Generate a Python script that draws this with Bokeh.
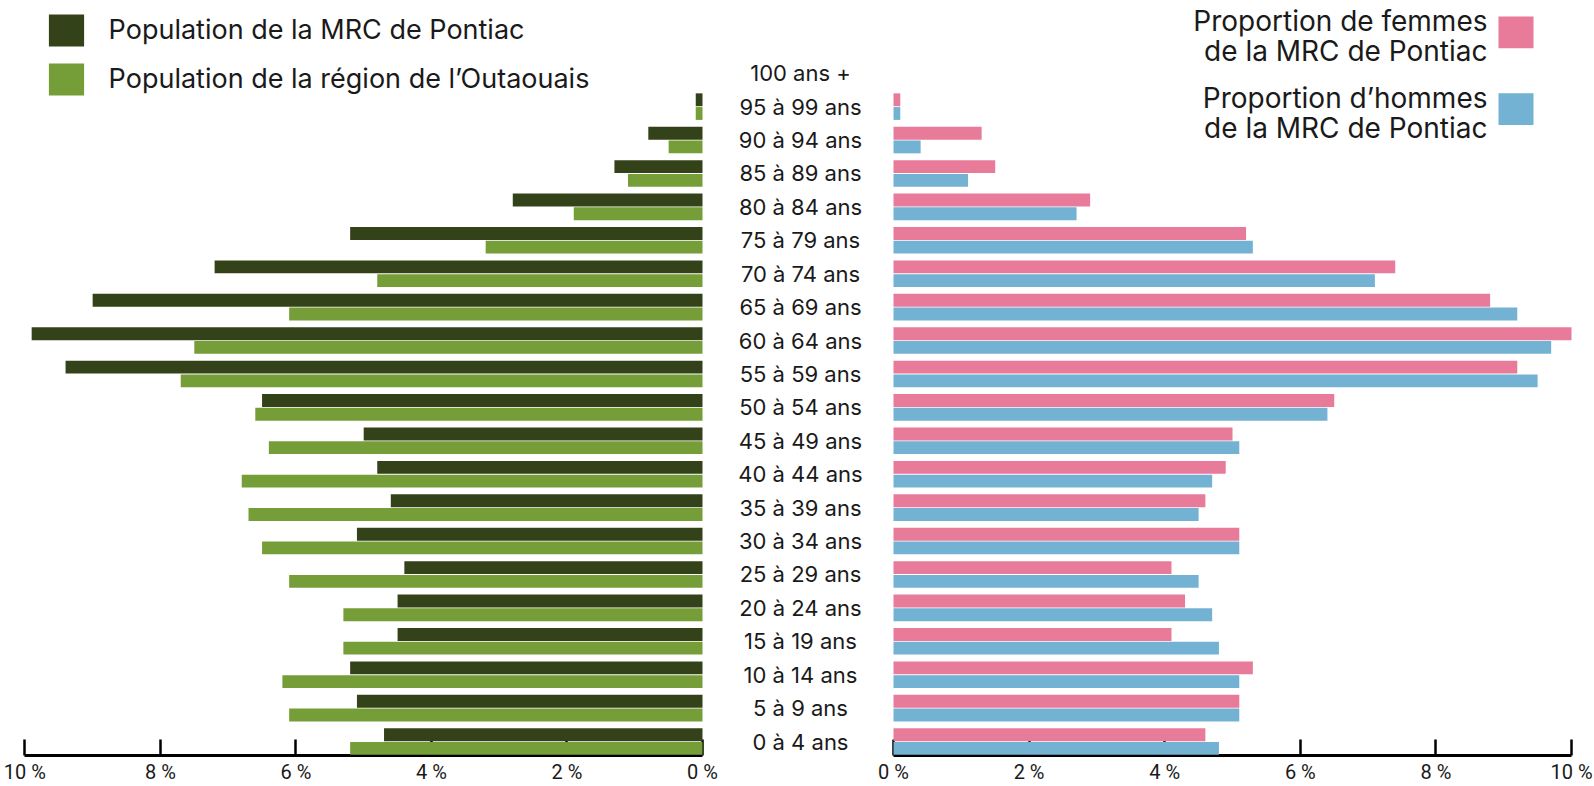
from bokeh.plotting import figure
from bokeh.layouts import row
from bokeh.models import (Range1d, LinearAxis, FixedTicker, Legend, LegendItem,
                          Label, BoxAnnotation, ColumnDataSource)
from bokeh.transform import dodge
from bokeh.embed import file_html
from bokeh.resources import INLINE
from bokeh.core.properties import value

# ---------------- data ----------------
ages = ["0 à 4 ans", "5 à 9 ans", "10 à 14 ans", "15 à 19 ans", "20 à 24 ans",
        "25 à 29 ans", "30 à 34 ans", "35 à 39 ans", "40 à 44 ans", "45 à 49 ans",
        "50 à 54 ans", "55 à 59 ans", "60 à 64 ans", "65 à 69 ans", "70 à 74 ans",
        "75 à 79 ans", "80 à 84 ans", "85 à 89 ans", "90 à 94 ans", "95 à 99 ans",
        "100 ans +"]
pontiac = [4.7, 5.1, 5.2, 4.5, 4.5, 4.4, 5.1, 4.6, 4.8, 5.0, 6.5,
           9.4, 9.9, 9.0, 7.2, 5.2, 2.8, 1.3, 0.8, 0.1, 0.0]
outaouais = [5.2, 6.1, 6.2, 5.3, 5.3, 6.1, 6.5, 6.7, 6.8, 6.4, 6.6,
             7.7, 7.5, 6.1, 4.8, 3.2, 1.9, 1.1, 0.5, 0.1, 0.0]
femmes = [4.6, 5.1, 5.3, 4.1, 4.3, 4.1, 5.1, 4.6, 4.9, 5.0, 6.5,
          9.2, 10.0, 8.8, 7.4, 5.2, 2.9, 1.5, 1.3, 0.1, 0.0]
hommes = [4.8, 5.1, 5.1, 4.8, 4.7, 4.5, 5.1, 4.5, 4.7, 5.1, 6.4,
          9.5, 9.7, 9.2, 7.1, 5.3, 2.7, 1.1, 0.4, 0.1, 0.0]
tick_values = [0, 2, 4, 6, 8, 10]
tick_labels = ["0 %", "2 %", "4 %", "6 %", "8 %", "10 %"]
legend_left = ["Population de la MRC de Pontiac", "Population de la région de l’Outaouais"]
legend_right = ["Proportion de femmes\nde la MRC de Pontiac", "Proportion d’hommes\nde la MRC de Pontiac"]

# ---------------- style ----------------
DARK = "#344219"
LIGHT = "#769e38"
PINK = "#e87a9a"
BLUE = "#74b2d3"
TXT = "#1a1a1a"
FONT = "Inter"
TICK_FONT = "Roboto"

H = 786
BOTTOM = 28
SIDE_W = 722
MID_W = 150
n = len(ages)
src = ColumnDataSource(dict(idx=list(range(n)), ages=ages, pontiac=pontiac,
                            outaouais=outaouais, femmes=femmes, hommes=hommes))
y_range = Range1d(-0.417, n - 1 + 2.176)
OFF = 0.205
BH = 0.385
FRAME_H = H - BOTTOM


def make_fig(width, x_range):
    p = figure(width=width, height=H, x_range=x_range, y_range=y_range,
               output_backend="svg", toolbar_location=None,
               x_axis_location=None, y_axis_location=None,
               min_border_left=0, min_border_right=0, min_border_top=0,
               min_border_bottom=BOTTOM)
    p.outline_line_color = None
    p.grid.visible = False
    p.background_fill_color = "white"
    p.border_fill_color = "white"
    return p


def add_axis(p):
    ax = LinearAxis(bounds=(tick_values[0], tick_values[-1]),
                    ticker=FixedTicker(ticks=tick_values),
                    major_label_overrides={v: l for v, l in zip(tick_values, tick_labels)})
    ax.axis_line_width = 3
    ax.axis_line_color = "black"
    ax.major_tick_in = 16
    ax.major_tick_out = 0
    ax.major_tick_line_width = 2.5
    ax.major_tick_line_color = "black"
    ax.minor_tick_line_color = None
    ax.major_label_standoff = 4
    ax.major_label_text_font = TICK_FONT
    ax.major_label_text_font_size = "20px"
    ax.major_label_text_color = TXT
    p.add_layout(ax, "below")


# ---------------- left: population ----------------
left = make_fig(SIDE_W, Range1d(10.36, -0.295))
add_axis(left)
r1 = left.hbar(y=dodge("idx", OFF), height=BH, left=0, right="pontiac", source=src,
               fill_color=DARK, line_color=None, level="overlay")
r2 = left.hbar(y=dodge("idx", -OFF), height=BH, left=0, right="outaouais", source=src,
               fill_color=LIGHT, line_color=None, level="overlay")
leg = Legend(items=[LegendItem(label=legend_left[0], renderers=[r1]),
                    LegendItem(label=legend_left[1], renderers=[r2])],
             location=(43.6, FRAME_H - 101.7), glyph_width=44, glyph_height=40,
             label_height=40, label_standoff=21, spacing=9, padding=0, margin=0,
             border_line_color=None, background_fill_alpha=0,
             label_text_font=FONT, label_text_font_size="27px", label_text_color=TXT)
left.add_layout(leg)

# ---------------- centre: age labels ----------------
mid = make_fig(MID_W, Range1d(-78, 72))
mid.text(x=0, y="idx", text="ages", source=src, text_align="center",
         text_baseline="middle", text_font=value(FONT), text_font_size="22px",
         text_color=TXT)

# ---------------- right: sexes ----------------
xr = Range1d(-0.3097, 10.339)
right = make_fig(SIDE_W, xr)
add_axis(right)
right.hbar(y=dodge("idx", OFF), height=BH, left=0, right="femmes", source=src,
           fill_color=PINK, line_color=None, level="overlay")
right.hbar(y=dodge("idx", -OFF), height=BH, left=0, right="hommes", source=src,
           fill_color=BLUE, line_color=None, level="overlay")


def rx(px):  # page pixel -> data x in right panel
    return xr.start + (px - 872) / SIDE_W * (xr.end - xr.start)


def ry(py):  # page pixel -> data y
    return y_range.end - py / FRAME_H * (y_range.end - y_range.start)


for lab, col, baselines, top, bot in [(legend_right[0], PINK, (21, 51), 16, 48),
                                      (legend_right[1], BLUE, (98, 128), 93, 125)]:
    for line, by in zip(lab.split("\n"), baselines):
        right.add_layout(Label(x=rx(1487), y=ry(by), text=line, text_align="right",
                               text_baseline="alphabetic", text_font=FONT,
                               text_font_size="28px", text_color=TXT))
    right.add_layout(BoxAnnotation(left=rx(1498), right=rx(1533), top=ry(top),
                                   bottom=ry(bot), fill_color=col, fill_alpha=1,
                                   line_color=None, level="annotation"))

layout = row(left, mid, right)
open("out.html", "w").write(file_html(layout, INLINE))
